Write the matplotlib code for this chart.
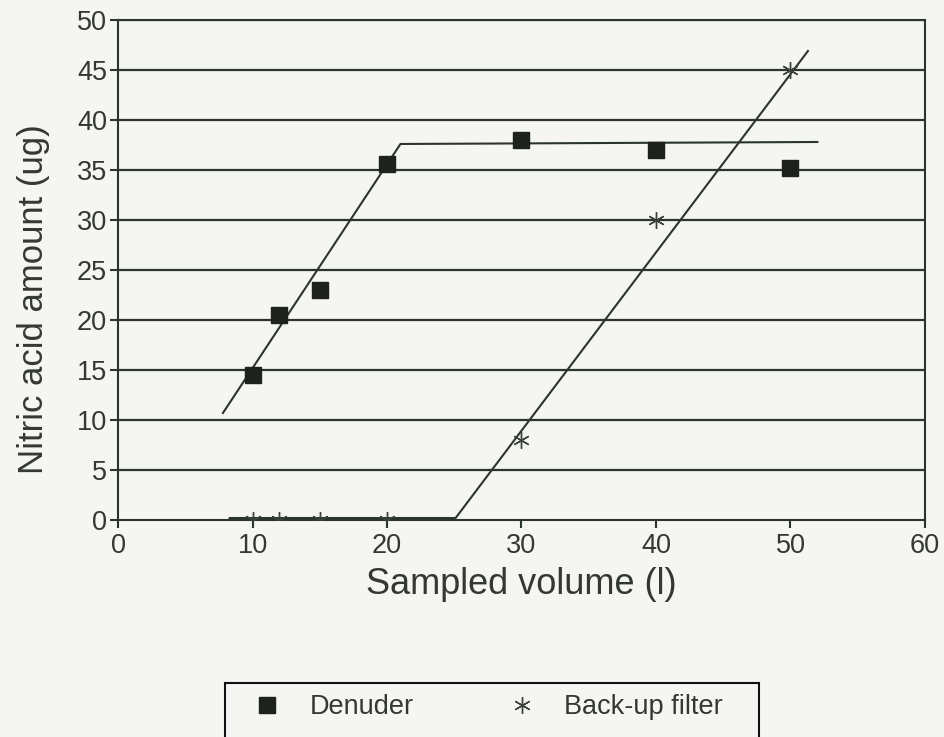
import numpy as np
import matplotlib.pyplot as plt
from matplotlib.lines import Line2D
from matplotlib.patches import Rectangle

plt.rcParams['font.family'] = ['Liberation Sans', 'DejaVu Sans']

# measured amounts
volume = [10, 12, 15, 20, 30, 40, 50]
denuder = [14.5, 20.5, 23.0, 35.6, 38.0, 37.0, 35.2]
backup = [0, 0, 0, 0, 8.0, 30.0, 45.0]

# hand-drawn trend lines (vertices)
den_fit_x = [7.8, 21.0, 52.0]
den_fit_y = [10.7, 37.6, 37.8]
bak_fit_x = [8.3, 25.1, 51.3]
bak_fit_y = [0.2, 0.2, 46.9]

ink = '#2b352b'
text_col = '#333833'
paper = '#f5f5f3'

fig = plt.figure(figsize=(9.45, 7.37), dpi=100, facecolor=paper)
ax = fig.add_axes([0.1249, 0.2944, 0.8539, 0.6785], facecolor=paper)

ax.set_xlim(0, 60)
ax.set_ylim(0, 50)
ax.set_xticks(np.arange(0, 61, 10))
ax.set_yticks(np.arange(0, 51, 5))

for y in np.arange(5, 51, 5):
    ax.axhline(y, color=ink, lw=1.6, zorder=1)

ax.plot(den_fit_x, den_fit_y, color=ink, lw=1.5, zorder=2)
ax.plot(bak_fit_x, bak_fit_y, color=ink, lw=1.5, zorder=2)

ax.plot(volume, denuder, ls='none', marker='s', ms=11, color='#1e221e', zorder=3)
ax.plot(volume, backup, ls='none', marker=(6, 2, 0), ms=12, mew=1.0,
        color='#3a423a', zorder=3)

for s in ax.spines.values():
    s.set_color(ink)
    s.set_linewidth(1.5)

ax.tick_params(axis='both', colors=ink, labelcolor=text_col, labelsize=19.5,
               width=1.5, length=6, direction='out')
ax.tick_params(axis='y', pad=2)
ax.tick_params(axis='x', pad=3)

ax.set_xlabel('Sampled volume (l)', fontsize=26, color=text_col, labelpad=6)
ax.set_ylabel('Nitric acid amount (ug)', fontsize=25, color=text_col)
ax.yaxis.set_label_coords(-0.084, 0.442)

# legend frame runs off the bottom edge of the figure
fig.patches.append(Rectangle((225 / 945, -0.05), (759 - 225) / 945,
                             0.05 + 1 - 683 / 737, transform=fig.transFigure,
                             fill=False, edgecolor='#111111', lw=1.5))

handles = [
    Line2D([], [], ls='none', marker='s', ms=11, color='#1e221e'),
    Line2D([], [], ls='none', marker=(6, 2, 0), ms=12, mew=1.0, color='#3a423a'),
]
leg = fig.legend(handles, ['Denuder', 'Back-up filter'], ncol=2,
                 loc='upper left', bbox_to_anchor=(251 / 945, 1 - 694 / 737),
                 fontsize=19.5, frameon=False, borderpad=0,
                 handletextpad=0.98, columnspacing=3.37, handlelength=1.2,
                 borderaxespad=0)
for t in leg.get_texts():
    t.set_color(text_col)

fig.savefig('out.png', dpi=100, facecolor=paper)
